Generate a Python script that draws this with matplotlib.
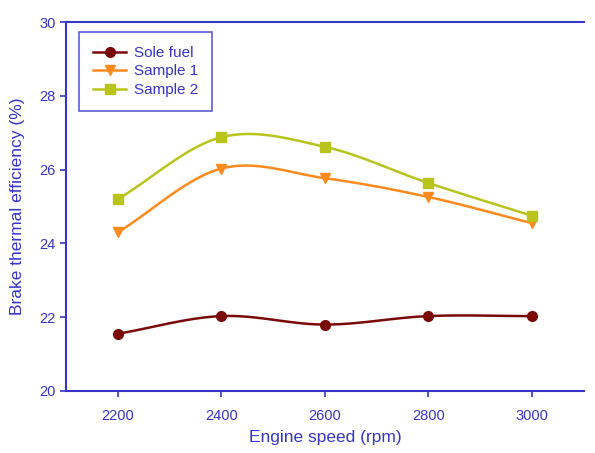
import numpy as np
import matplotlib
matplotlib.use('Agg')
import matplotlib.pyplot as plt

plt.rcParams['font.family'] = ['Liberation Sans', 'DejaVu Sans']

speed = [2200, 2400, 2600, 2800, 3000]
sole_fuel = [21.55, 22.03, 21.8, 22.03, 22.03]
sample1 = [24.3, 26.03, 25.77, 25.26, 24.55]
sample2 = [25.2, 26.88, 26.62, 25.64, 24.75]

blue = '#3535c8'


def smooth(x, y, n=30):
    # catmull-rom style curve through the points (like excel "smoothed line")
    x = np.asarray(x, float); y = np.asarray(y, float)
    px = np.concatenate([[2 * x[0] - x[1]], x, [2 * x[-1] - x[-2]]])
    py = np.concatenate([[2 * y[0] - y[1]], y, [2 * y[-1] - y[-2]]])
    xs, ys = [], []
    t = np.linspace(0, 1, n)
    for i in range(1, len(px) - 2):
        for p, out in ((px, xs), (py, ys)):
            p0, p1, p2, p3 = p[i - 1], p[i], p[i + 1], p[i + 2]
            out.extend(0.5 * ((2 * p1) + (-p0 + p2) * t
                              + (2 * p0 - 5 * p1 + 4 * p2 - p3) * t ** 2
                              + (-p0 + 3 * p1 - 3 * p2 + p3) * t ** 3))
    return xs, ys


fig = plt.figure(figsize=(5.95, 4.53), dpi=100)
ax = fig.add_axes([0.111, 0.137, 0.87, 0.814])

series = [('Sole fuel', sole_fuel, '#7a0a0a', 'o'),
          ('Sample 1', sample1, '#ff8a1e', 'v'),
          ('Sample 2', sample2, '#b8c41c', 's')]
for name, vals, col, mk in series:
    sx, sy = smooth(speed, vals)
    ax.plot(sx, sy, color=col, lw=1.8)
    ax.plot(speed, vals, color=col, marker=mk, ms=7, ls='none')
    ax.plot([], [], color=col, marker=mk, ms=7, lw=1.8, label=name)

ax.set_xlim(2100, 3100)
ax.set_ylim(20, 30)
ax.set_xticks(speed)
ax.set_yticks([20, 22, 24, 26, 28, 30])

for s in ['left', 'bottom', 'top']:
    ax.spines[s].set_color(blue)
    ax.spines[s].set_linewidth(1.5)
ax.spines['right'].set_visible(False)
ax.tick_params(colors=blue, labelcolor=blue, labelsize=10.5, direction='out', length=4, width=1.2)
ax.tick_params(axis='x', pad=9)

ax.set_xlabel('Engine speed (rpm)', color=blue, fontsize=12.5, labelpad=5)
ax.set_ylabel('Brake thermal efficiency (%)', color=blue, fontsize=12.5, labelpad=10)

leg = ax.legend(loc='upper left', bbox_to_anchor=(0.025, 0.973), borderaxespad=0,
                fancybox=False, edgecolor=blue, fontsize=11, labelcolor=blue,
                handlelength=2.2, handletextpad=0.5, borderpad=0.9, labelspacing=0.3)
leg.get_frame().set_linewidth(1.2)

fig.savefig('out.png', dpi=100)
